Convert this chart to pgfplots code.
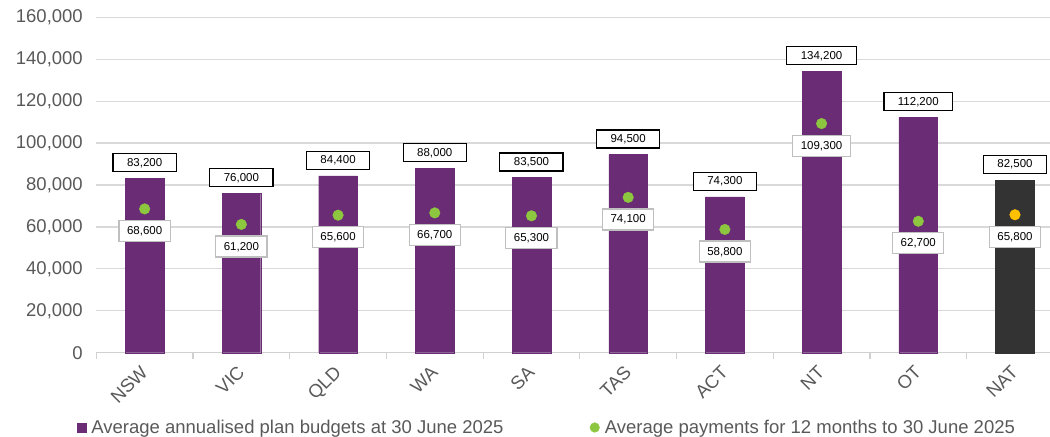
\documentclass[border=0pt]{standalone}
\usepackage{fontspec}
\setmainfont{Liberation Sans}
\usepackage{pgfplots}
\pgfplotsset{compat=1.18}
\definecolor{bpurple}{HTML}{6A2C75}
\definecolor{bdark}{HTML}{333333}
\definecolor{dotgreen}{HTML}{8DC63F}
\definecolor{dotorange}{HTML}{FFC000}
\definecolor{gridgray}{HTML}{D9D9D9}
\definecolor{axisgray}{HTML}{D0D0D0}
\definecolor{textgray}{HTML}{595959}
\definecolor{boxgray}{HTML}{BFBFBF}
\begin{document}
\begin{tikzpicture}
\begin{axis}[name=ax, scale only axis, width=953.7pt, height=335.4pt,
  xmin=-0.5, xmax=9.362, ymin=0, ymax=160000, clip=false,
  /pgf/number format/assume math mode=true,
  /pgf/number format/.cd, fixed, 1000 sep={,}, /pgfplots/.cd,
  scaled y ticks=false,
  ytick={0,20000,...,160000},
  xtick={0,...,9}, xticklabels={NSW,VIC,QLD,WA,SA,TAS,ACT,NT,OT,NAT},
  major tick length=0pt,
  extra x ticks={-0.5,0.5,1.5,2.5,3.5,4.5,5.5,6.5,7.5,8.5},
  extra x tick labels={},
  extra x tick style={major tick length=6pt, tick align=outside,
    major tick style={draw=axisgray, line width=1.2pt}, grid=none},
  ymajorgrids, grid style={draw=gridgray, line width=1.2pt},
  axis lines*=left,
  y axis line style={draw=none},
  x axis line style={draw=axisgray, line width=1.3pt},
  yticklabel style={font=\fontsize{18.5}{20}\selectfont, text=textgray, xshift=-10pt},
  xticklabel style={font=\fontsize{18.5}{20}\selectfont, text=textgray, xshift=-5pt, yshift=-7pt, rotate=45, anchor=north east},
  legend style={at={(axis description cs:0,0)}, anchor=west, xshift=-19.3pt, yshift=-74.8pt,
    draw=none, fill=none, inner sep=0pt, outer sep=0pt, legend columns=2,
    nodes={inner xsep=0pt, inner ysep=2pt, text=textgray, font=\fontsize{18.5}{20}\selectfont},
    /tikz/every even column/.append style={column sep=86pt}},
  legend cell align=left,
]
\addplot[ybar, bar width=38.7pt, bar shift=0pt, fill=bpurple, draw=bpurple,
  legend image code/.code={\fill[bpurple] (0pt,-4.5pt) rectangle (9pt,4.5pt); \path (14pt,0pt);},
  nodes near coords,
  every node near coord/.append style={draw=black, fill=white, line width=1.2pt, inner xsep=14pt, inner ysep=4pt, text height=8.5pt, text depth=1.5pt, font=\fontsize{11.5}{12}\selectfont, anchor=south, yshift=6pt, text=black}]
  coordinates {(0,83200) (1,76000) (2,84400) (3,88000) (4,83500) (5,94500) (6,74300) (7,134200) (8,112200)};
\addlegendentry{Average annualised plan budgets at 30 June 2025}
\addplot[forget plot, ybar, bar width=38.7pt, bar shift=0pt, fill=bdark, draw=bdark,
  nodes near coords,
  every node near coord/.append style={draw=black, fill=white, line width=1.2pt, inner xsep=14pt, inner ysep=4pt, text height=8.5pt, text depth=1.5pt, font=\fontsize{11.5}{12}\selectfont, anchor=south, yshift=6pt, text=black}]
  coordinates {(9,82500)};
\addplot[only marks, mark=*, mark size=5.3pt, color=dotgreen,
  legend image code/.code={\path (0pt,0pt); \fill[dotgreen] (5pt,0pt) circle (4.8pt); \path (15pt,0pt);},
  nodes near coords,
  every node near coord/.append style={draw=boxgray, fill=white, line width=1.2pt, inner xsep=8pt, inner ysep=5.5pt, text height=8.5pt, text depth=1.5pt, font=\fontsize{11.5}{12}\selectfont, anchor=north, yshift=-11pt, text=black}]
  coordinates {(0,68600) (1,61200) (2,65600) (3,66700) (4,65300) (5,74100) (6,58800) (7,109300) (8,62700)};
\addlegendentry{Average payments for 12 months to 30 June 2025}
\addplot[forget plot, only marks, mark=*, mark size=5.3pt, color=dotorange,
  nodes near coords,
  every node near coord/.append style={draw=boxgray, fill=white, line width=1.2pt, inner xsep=8pt, inner ysep=5.5pt, text height=8.5pt, text depth=1.5pt, font=\fontsize{11.5}{12}\selectfont, anchor=north, yshift=-11pt, text=black}]
  coordinates {(9,65800)};
\end{axis}
\pgfresetboundingbox
\path ([xshift=-96.3pt, yshift=-83.3pt]ax.south west) rectangle ([yshift=17.3pt]ax.north east);
\end{tikzpicture}
\end{document}
